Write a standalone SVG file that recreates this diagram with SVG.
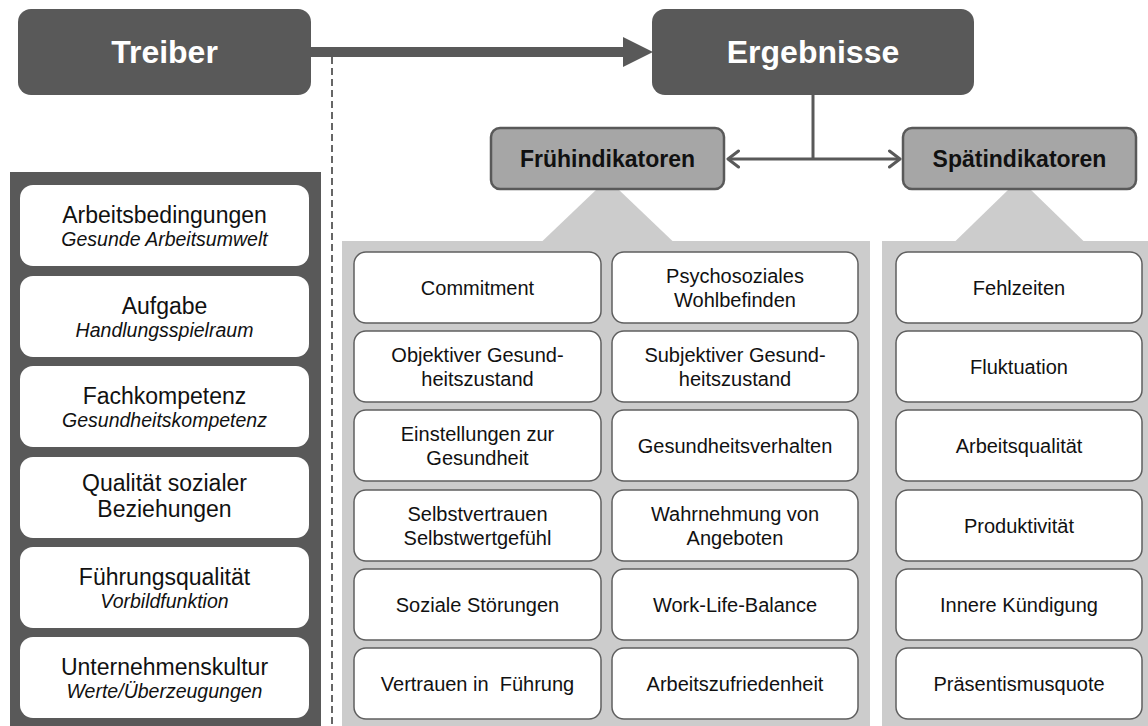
<svg xmlns="http://www.w3.org/2000/svg" width="1148" height="726" viewBox="0 0 1148 726">
<style>
text{font-family:"Liberation Sans",Arial,sans-serif;text-anchor:middle;fill:#111}
.hd{font-weight:bold;font-size:32px;fill:#fff}
.sub{font-weight:bold;font-size:23px;fill:#111}
.lt{font-size:23px}
.li{font-size:19.5px;font-style:italic}
.it{font-size:20px}
.dark{fill:#595959}
.subbox{fill:#a6a6a6;stroke:#595959;stroke-width:2.5}
.wb{fill:#fff}
.ib{fill:#fff;stroke:#5f5f5f;stroke-width:1.5}
.pan{fill:#cccccc}
.con{stroke:#595959;stroke-width:3;fill:none}
</style>
<defs>
<marker id="chev" viewBox="0 0 14 20" refX="12" refY="10" markerWidth="14" markerHeight="20" markerUnits="userSpaceOnUse" orient="auto-start-reverse">
<polyline points="1.5,2 12,10 1.5,18" fill="none" stroke="#595959" stroke-width="3" stroke-linecap="round" stroke-linejoin="round"/>
</marker>
</defs>
<rect width="1148" height="726" fill="#fff"/>

<!-- panels -->
<g id="panels">
<rect class="dark" x="10" y="172" width="311" height="554"/>
<rect class="pan" x="342" y="241" width="528" height="485"/>
<rect class="pan" x="882" y="241" width="266" height="485"/>
<polygon class="pan" points="597,189 618,189 673,241.5 542,241.5"/>
<polygon class="pan" points="1009,189 1030,189 1084,241.5 955,241.5"/>
</g>

<g id="connectors">
<line x1="332" y1="57" x2="332" y2="726" stroke="#666" stroke-width="2" stroke-dasharray="7,4"/>
<rect class="dark" x="310" y="47" width="314" height="10"/>
<polygon class="dark" points="623,37 653,52 623,67"/>
<polyline class="con" points="813,94 813,159"/>
<line class="con" x1="728" y1="159" x2="900" y2="159" marker-start="url(#chev)" marker-end="url(#chev)"/>
</g>

<g id="treiber"><rect class="dark" x="18" y="9" width="293" height="86" rx="13"/><text class="hd" x="164.5" y="63">Treiber</text></g>
<g id="ergebnisse"><rect class="dark" x="652" y="9" width="322" height="86" rx="13"/><text class="hd" x="813" y="63">Ergebnisse</text></g>
<g id="fruehindikatoren"><rect class="subbox" x="491" y="128" width="233" height="61" rx="9"/><text class="sub" x="607.5" y="167">Frühindikatoren</text></g>
<g id="spaetindikatoren"><rect class="subbox" x="903" y="128" width="233" height="61" rx="9"/><text class="sub" x="1019.5" y="167">Spätindikatoren</text></g>

<!-- Treiber items -->
<g id="t1"><rect class="wb" x="20" y="185" width="289" height="81" rx="13"/><text class="lt" x="164.5" y="223">Arbeitsbedingungen</text><text class="li" x="164.5" y="246">Gesunde Arbeitsumwelt</text></g>
<g id="t2"><rect class="wb" x="20" y="276" width="289" height="81" rx="13"/><text class="lt" x="164.5" y="314">Aufgabe</text><text class="li" x="164.5" y="337">Handlungsspielraum</text></g>
<g id="t3"><rect class="wb" x="20" y="366" width="289" height="81" rx="13"/><text class="lt" x="164.5" y="404">Fachkompetenz</text><text class="li" x="164.5" y="427">Gesundheitskompetenz</text></g>
<g id="t4"><rect class="wb" x="20" y="457" width="289" height="81" rx="13"/><text class="lt" x="164.5" y="491">Qualität sozialer</text><text class="lt" x="164.5" y="517">Beziehungen</text></g>
<g id="t5"><rect class="wb" x="20" y="547" width="289" height="81" rx="13"/><text class="lt" x="164.5" y="585">Führungsqualität</text><text class="li" x="164.5" y="608">Vorbildfunktion</text></g>
<g id="t6"><rect class="wb" x="20" y="637" width="289" height="81" rx="13"/><text class="lt" x="164.5" y="675">Unternehmenskultur</text><text class="li" x="164.5" y="698">Werte/Überzeugungen</text></g>

<!-- Frühindikatoren col 1 -->
<g id="f1"><rect class="ib" x="354" y="252" width="247" height="71" rx="12"/><text class="it" x="477.5" y="294.5">Commitment</text></g>
<g id="f2"><rect class="ib" x="354" y="331" width="247" height="71" rx="12"/><text class="it" x="477.5" y="361.5">Objektiver Gesund-</text><text class="it" x="477.5" y="385.5">heitszustand</text></g>
<g id="f3"><rect class="ib" x="354" y="410" width="247" height="71" rx="12"/><text class="it" x="477.5" y="440.5">Einstellungen zur</text><text class="it" x="477.5" y="464.5">Gesundheit</text></g>
<g id="f4"><rect class="ib" x="354" y="490" width="247" height="71" rx="12"/><text class="it" x="477.5" y="520.5">Selbstvertrauen</text><text class="it" x="477.5" y="544.5">Selbstwertgefühl</text></g>
<g id="f5"><rect class="ib" x="354" y="569" width="247" height="71" rx="12"/><text class="it" x="477.5" y="611.5">Soziale Störungen</text></g>
<g id="f6"><rect class="ib" x="354" y="648" width="247" height="71" rx="12"/><text class="it" x="477.5" y="690.5" xml:space="preserve">Vertrauen in  Führung</text></g>

<!-- Frühindikatoren col 2 -->
<g id="f7"><rect class="ib" x="612" y="252" width="246" height="71" rx="12"/><text class="it" x="735" y="282.5">Psychosoziales</text><text class="it" x="735" y="306.5">Wohlbefinden</text></g>
<g id="f8"><rect class="ib" x="612" y="331" width="246" height="71" rx="12"/><text class="it" x="735" y="361.5">Subjektiver Gesund-</text><text class="it" x="735" y="385.5">heitszustand</text></g>
<g id="f9"><rect class="ib" x="612" y="410" width="246" height="71" rx="12"/><text class="it" x="735" y="452.5">Gesundheitsverhalten</text></g>
<g id="f10"><rect class="ib" x="612" y="490" width="246" height="71" rx="12"/><text class="it" x="735" y="520.5">Wahrnehmung von</text><text class="it" x="735" y="544.5">Angeboten</text></g>
<g id="f11"><rect class="ib" x="612" y="569" width="246" height="71" rx="12"/><text class="it" x="735" y="611.5">Work-Life-Balance</text></g>
<g id="f12"><rect class="ib" x="612" y="648" width="246" height="71" rx="12"/><text class="it" x="735" y="690.5">Arbeitszufriedenheit</text></g>

<!-- Spätindikatoren -->
<g id="s1"><rect class="ib" x="896" y="252" width="246" height="71" rx="12"/><text class="it" x="1019" y="294.5">Fehlzeiten</text></g>
<g id="s2"><rect class="ib" x="896" y="331" width="246" height="71" rx="12"/><text class="it" x="1019" y="373.5">Fluktuation</text></g>
<g id="s3"><rect class="ib" x="896" y="410" width="246" height="71" rx="12"/><text class="it" x="1019" y="452.5">Arbeitsqualität</text></g>
<g id="s4"><rect class="ib" x="896" y="490" width="246" height="71" rx="12"/><text class="it" x="1019" y="532.5">Produktivität</text></g>
<g id="s5"><rect class="ib" x="896" y="569" width="246" height="71" rx="12"/><text class="it" x="1019" y="611.5">Innere Kündigung</text></g>
<g id="s6"><rect class="ib" x="896" y="648" width="246" height="71" rx="12"/><text class="it" x="1019" y="690.5">Präsentismusquote</text></g>
</svg>
